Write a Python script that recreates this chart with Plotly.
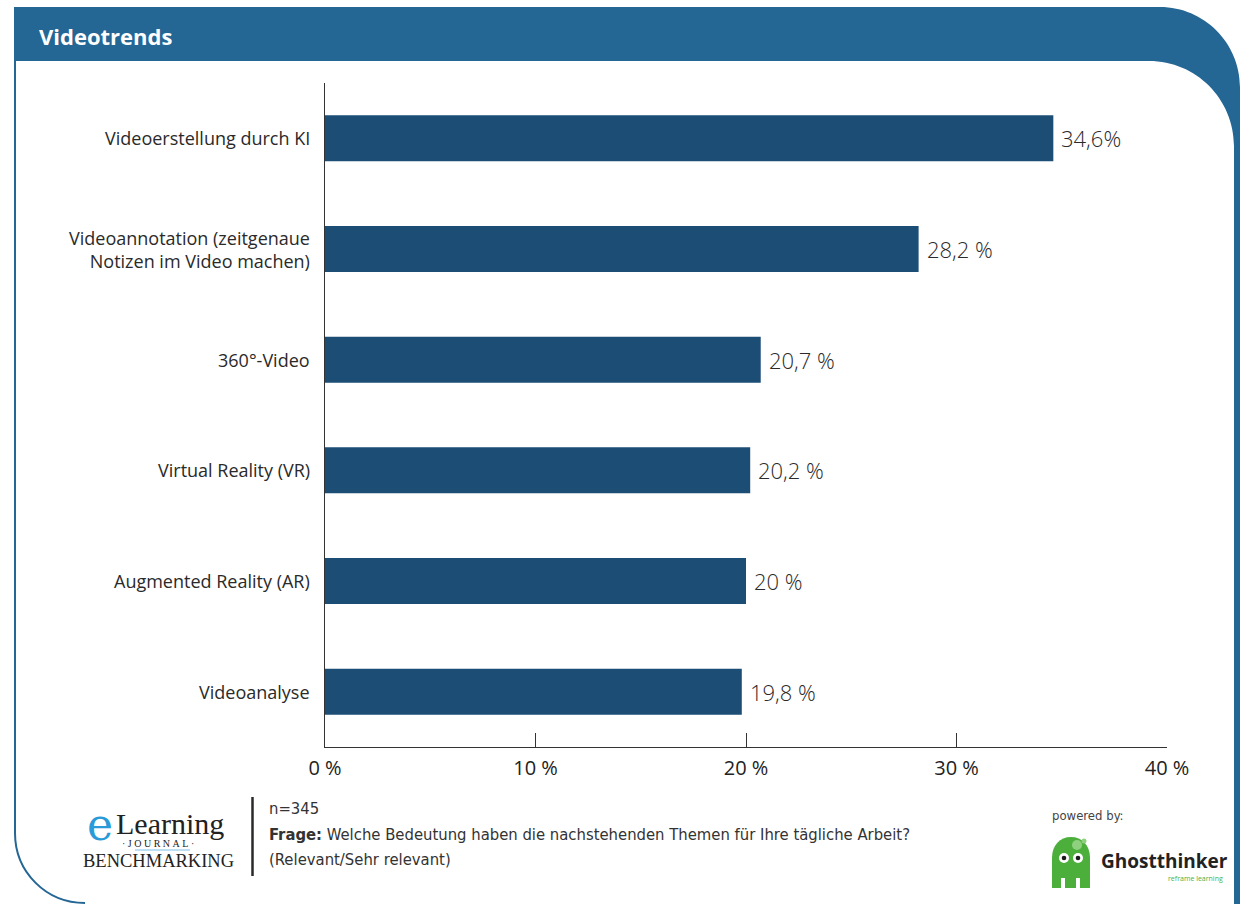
import plotly.graph_objects as go

W, H = 1242, 904

# ---- data -------------------------------------------------------------
categories = [
    "Videoerstellung durch KI",
    "Videoannotation (zeitgenaue<br>Notizen im Video machen)",
    "360°-Video",
    "Virtual Reality (VR)",
    "Augmented Reality (AR)",
    "Videoanalyse",
]
values = [34.6, 28.2, 20.7, 20.2, 20.0, 19.8]
unit_sep = ["", " ", " ", " ", " ", " "]
x_ticks = [0, 10, 20, 30, 40]
x_tick_labels = ["0 %", "10 %", "20 %", "30 %", "40 %"]

title_text = "Videotrends"
sample_text = "n=345"
question_text = "<b>Frage:</b> Welche Bedeutung haben die nachstehenden Themen für Ihre tägliche Arbeit?"
answer_text = "(Relevant/Sehr relevant)"

# ---- styling ----------------------------------------------------------
FRAME_BLUE = "#246694"
BAR_BLUE = "#1c4e75"
TEXT_DARK = "#2a2a2a"
GREEN = "#4caf3c"
BODY_FONT = "Open Sans"
NARROW_FONT = "DejaVu Sans Condensed, Liberation Sans Narrow, sans-serif"
NBSP = "\u00a0"


def px(x):
    return x / W


def py(y):
    return 1 - y / H


def pt(x, y):
    return f"{px(x):.5f},{py(y):.5f}"


def fmt_value(v, sep):
    s = f"{v:.1f}".replace(".", ",")
    if s.endswith(",0"):
        s = s[:-2]
    return s + sep + "%"


fig = go.Figure()

fig.add_trace(go.Bar(
    x=values,
    y=categories,
    orientation="h",
    marker=dict(color=BAR_BLUE, line=dict(width=0)),
    hoverinfo="skip",
    showlegend=False,
))

shapes = []
annotations = []

# header band with rounded top-right corner and right border
header = (
    f"M {pt(14, 7)} L {pt(1160, 7)} "
    f"C {pt(1204, 7)} {pt(1240, 43)} {pt(1240, 87)} "
    f"L {pt(1240, 906)} L {pt(1234, 906)} L {pt(1234, 146)} "
    f"C {pt(1234, 99)} {pt(1196, 61)} {pt(1149, 61)} "
    f"L {pt(14, 61)} Z"
)
shapes.append(dict(type="path", path=header, xref="paper", yref="paper",
                   fillcolor=FRAME_BLUE, line=dict(width=0), layer="below"))

# left border with rounded bottom-left corner
left_border = (
    f"M {pt(15, 60)} L {pt(15, 833)} "
    f"C {pt(15, 872)} {pt(46, 903)} {pt(85, 903)}"
)
shapes.append(dict(type="path", path=left_border, xref="paper", yref="paper",
                   line=dict(color=FRAME_BLUE, width=2)))

annotations.append(dict(
    text=f"<b>{title_text}</b>", x=px(37), y=py(36), xref="paper", yref="paper",
    xanchor="left", yanchor="middle", showarrow=False,
    font=dict(family=BODY_FONT, size=22, color="white"),
))

# category labels
for cat in categories:
    annotations.append(dict(
        text=cat, x=px(312), y=cat, xref="paper", yref="y",
        xanchor="right", yanchor="middle", align="right", showarrow=False,
        font=dict(family=BODY_FONT, size=18, color=TEXT_DARK),
    ))

# value labels at the bar ends
for cat, v, sep in zip(categories, values, unit_sep):
    annotations.append(dict(
        text=fmt_value(v, sep), x=v, y=cat, xref="x", yref="y",
        xanchor="left", yanchor="middle", xshift=6, showarrow=False,
        font=dict(family=BODY_FONT, size=22, color=TEXT_DARK, weight=300),
    ))

# ---- footer: source block ---------------------------------------------
shapes.append(dict(type="line", x0=px(252.5), x1=px(252.5), y0=py(797), y1=py(876),
                   xref="paper", yref="paper", line=dict(color="#2a2a2a", width=2.5)))

for txt, y in [(sample_text, 808), (question_text, 834), (answer_text, 859)]:
    annotations.append(dict(
        text=txt, x=px(267), y=py(y), xref="paper", yref="paper",
        xanchor="left", yanchor="middle", showarrow=False,
        font=dict(family=NARROW_FONT, size=16.5, color="#333333"),
    ))

# eLearning Journal Benchmarking wordmark
journal = NBSP.join(["·", "J", "O", "U", "R", "N", "A", "L", "·"])
annotations += [
    dict(text="e", x=px(100), y=py(824), xref="paper", yref="paper",
         xanchor="center", yanchor="middle", showarrow=False,
         font=dict(family="DejaVu Serif", size=44, color="#2b9ad8")),
    dict(text="Learning", x=px(114), y=py(823), xref="paper", yref="paper",
         xanchor="left", yanchor="middle", showarrow=False,
         font=dict(family="Liberation Serif", size=30, color="#222222")),
    dict(text=journal, x=px(158), y=py(843), xref="paper", yref="paper",
         xanchor="center", yanchor="middle", showarrow=False,
         font=dict(family="Liberation Serif", size=10, color="#222222")),
    dict(text="BENCHMARKING", x=px(158), y=py(861), xref="paper", yref="paper",
         xanchor="center", yanchor="middle", showarrow=False,
         font=dict(family="Liberation Serif", size=18.5, color="#222222")),
]
shapes.append(dict(type="line", x0=px(135), x1=px(190), y0=py(850), y1=py(850),
                   xref="paper", yref="paper", line=dict(color="#7cc0e8", width=1)))

# ---- footer: powered by -----------------------------------------------
annotations.append(dict(
    text="powered by:", x=px(1050), y=py(815), xref="paper", yref="paper",
    xanchor="left", yanchor="middle", showarrow=False,
    font=dict(family=NARROW_FONT, size=13, color="#444444"),
))

ghost = (
    f"M {pt(1052, 888)} L {pt(1052, 858)} "
    f"C {pt(1052, 845)} {pt(1060, 837)} {pt(1071, 837)} "
    f"C {pt(1082, 837)} {pt(1090, 845)} {pt(1090, 858)} "
    f"L {pt(1090, 888)} Z"
)
shapes.append(dict(type="path", path=ghost, xref="paper", yref="paper",
                   fillcolor=GREEN, line=dict(width=0)))
# gaps between the ghost's legs
for x0, x1 in [(1061, 1065), (1076, 1080)]:
    shapes.append(dict(type="rect", x0=px(x0), x1=px(x1), y0=py(889), y1=py(878),
                       xref="paper", yref="paper", fillcolor="white", line=dict(width=0)))
# bubbles on the head
for cx, cy, r in [(1077, 845, 5), (1084, 841, 2.5)]:
    shapes.append(dict(type="circle", x0=px(cx - r), x1=px(cx + r), y0=py(cy + r), y1=py(cy - r),
                       xref="paper", yref="paper", fillcolor="#8fd07f", line=dict(width=0)))
# eyes
for cx in [1064, 1078]:
    shapes.append(dict(type="circle", x0=px(cx - 5), x1=px(cx + 5), y0=py(863), y1=py(853),
                       xref="paper", yref="paper", fillcolor="white", line=dict(width=0)))
    shapes.append(dict(type="circle", x0=px(cx - 2.3), x1=px(cx + 2.3), y0=py(860.3), y1=py(855.7),
                       xref="paper", yref="paper", fillcolor="#1a1a1a", line=dict(width=0)))

annotations += [
    dict(text="<b>Ghostthinker</b>", x=px(1099), y=py(861), xref="paper", yref="paper",
         xanchor="left", yanchor="middle", showarrow=False,
         font=dict(family="Open Sans", size=19, color="#222222")),
    dict(text="reframe learning", x=px(1225), y=py(878), xref="paper", yref="paper",
         xanchor="right", yanchor="middle", showarrow=False,
         font=dict(family=BODY_FONT, size=7, color=GREEN)),
]

fig.update_layout(
    width=W, height=H,
    autosize=False,
    margin=dict(l=0, r=0, t=0, b=0, pad=0, autoexpand=False),
    paper_bgcolor="white", plot_bgcolor="white",
    showlegend=False,
    bargap=0.585,
    shapes=shapes,
    annotations=annotations,
    xaxis=dict(
        domain=[px(325), px(1167)],
        range=[0, 40],
        automargin=False,
        tickvals=x_ticks, ticktext=x_tick_labels,
        ticks="inside", ticklen=14, tickcolor="#333333", tickwidth=1,
        showline=True, linecolor="#333333", linewidth=1,
        showgrid=False, zeroline=False,
        ticklabelstandoff=3,
        tickfont=dict(family=BODY_FONT, size=20, color="#222222"),
        fixedrange=True,
    ),
    yaxis=dict(
        domain=[py(747), py(83)],
        type="category",
        range=[len(categories) - 0.5, -0.5],
        automargin=False,
        showline=True, linecolor="#333333", linewidth=1,
        showticklabels=False, ticks="",
        showgrid=False, zeroline=False,
        fixedrange=True,
    ),
)

fig.write_html("out.html")
